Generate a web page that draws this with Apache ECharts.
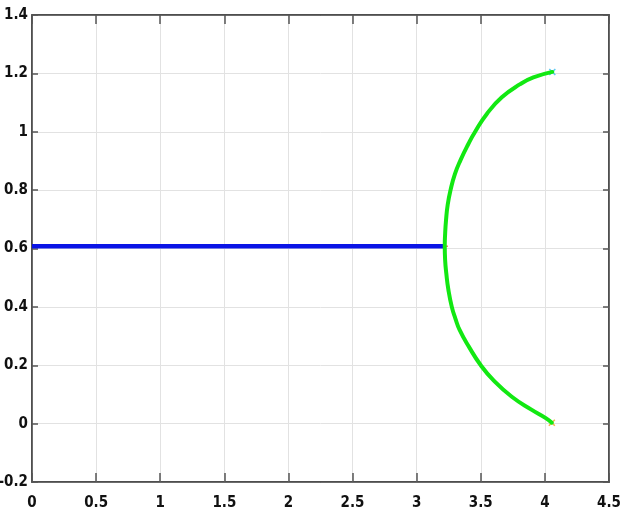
<!DOCTYPE html>
<html>
<head>
<meta charset="UTF-8">
<title>Locus</title>
<script src="https://cdn.jsdelivr.net/npm/echarts@6/dist/echarts.min.js"></script>
<style>
  * { margin: 0; padding: 0; }
  body { background: #fff; }
  #app { width: 624px; height: 520px; }
</style>
</head>
<body>
<div id="app"></div>
<script>
// blue horizontal branch
var lineX = [0, 3.216];
var lineY = [0.608, 0.608];

// green branch, top end down to bottom end
var curveX = [4.058, 3.91, 3.807, 3.664, 3.547, 3.456, 3.403, 3.342, 3.298, 3.264, 3.242, 3.229, 3.222, 3.219,
              3.222, 3.231, 3.247, 3.274, 3.302, 3.335, 3.408, 3.5, 3.598, 3.742, 3.898, 4.01, 4.054];
var curveY = [1.205, 1.186, 1.163, 1.118, 1.061, 1.0, 0.958, 0.903, 0.855, 0.8, 0.75, 0.697, 0.65, 0.608,
              0.56, 0.515, 0.46, 0.4, 0.36, 0.321, 0.263, 0.2, 0.149, 0.092, 0.047, 0.018, 0.003];

// end markers
var breakPoint = [3.216, 0.608];
var topEnd = [4.058, 1.205];
var bottomEnd = [4.054, 0.003];

function pairs(xs, ys) {
  var out = [];
  for (var i = 0; i < xs.length; i++) out.push([xs[i], ys[i]]);
  return out;
}

var crossPath = 'path://M0,0L10,10M10,0L0,10';
var labelFont = {
  fontFamily: "'DejaVu Sans Condensed', sans-serif",
  fontWeight: 'bold',
  fontSize: 15,
  color: '#111'
};

var myChart = echarts.init(document.getElementById('app'));

var option = {
  animation: false,
  grid: {
    left: 32, right: 15, top: 15, bottom: 38,
    outerBoundsMode: 'none',
    containLabel: false,
    show: true, borderColor: '#444', borderWidth: 1.5
  },
  xAxis: [{
    type: 'value', min: 0, max: 4.5, interval: 0.5,
    axisLine: { onZero: false, lineStyle: { color: '#444', width: 1.5 } },
    axisTick: { inside: true, length: 9, lineStyle: { color: '#555', width: 1.5 } },
    axisLabel: Object.assign({ margin: 14 }, labelFont),
    splitLine: { lineStyle: { color: '#e2e2e2', width: 1 } }
  }, {
    type: 'value', min: 0, max: 4.5, interval: 0.5, position: 'top',
    axisLine: { onZero: false, lineStyle: { color: '#444', width: 1.5 } },
    axisTick: { inside: true, length: 9, lineStyle: { color: '#555', width: 1.5 } },
    axisLabel: { show: false },
    splitLine: { show: false }
  }],
  yAxis: [{
    type: 'value', min: -0.2, max: 1.4, interval: 0.2,
    axisLine: { show: true, onZero: false, lineStyle: { color: '#444', width: 1.5 } },
    axisTick: { show: true, inside: true, length: 6, lineStyle: { color: '#555', width: 1.5 } },
    axisLabel: Object.assign({ margin: 4 }, labelFont),
    splitLine: { lineStyle: { color: '#e2e2e2', width: 1 } }
  }, {
    type: 'value', min: -0.2, max: 1.4, interval: 0.2, position: 'right',
    axisLine: { show: true, onZero: false, lineStyle: { color: '#444', width: 1.5 } },
    axisTick: { show: true, inside: true, length: 6, lineStyle: { color: '#555', width: 1.5 } },
    axisLabel: { show: false },
    splitLine: { show: false }
  }],
  series: [{
    type: 'line',
    data: pairs(lineX, lineY),
    showSymbol: false,
    lineStyle: { color: '#0a14e6', width: 4.5 }
  }, {
    type: 'line',
    data: pairs(curveX, curveY),
    smooth: 0.5,
    showSymbol: false,
    lineStyle: { color: '#12e812', width: 4, join: 'round', cap: 'round' }
  }, {
    type: 'scatter',
    data: [breakPoint],
    symbol: 'path://M5,0L5,10M0,5L10,5',
    symbolSize: 7,
    itemStyle: { color: 'none', borderColor: '#e84040', borderWidth: 1.5 }
  }, {
    type: 'scatter',
    data: [topEnd],
    symbol: crossPath,
    symbolSize: 6,
    itemStyle: { color: 'none', borderColor: '#33bbee', borderWidth: 1.5 }
  }, {
    type: 'scatter',
    data: [bottomEnd],
    symbol: crossPath,
    symbolSize: 6,
    itemStyle: { color: 'none', borderColor: '#f0a020', borderWidth: 1.5 }
  }]
};

myChart.setOption(option);
</script>
</body>
</html>
